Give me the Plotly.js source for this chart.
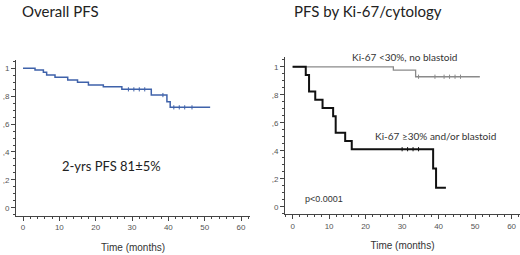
<!DOCTYPE html>
<html><head><meta charset="utf-8">
<script src="https://cdn.plot.ly/plotly-3.0.1.min.js"></script>
<style>html,body{margin:0;padding:0;background:#fff}#c{width:520px;height:255px}</style>
</head><body><div id="c"></div>
<script>
// Overall PFS
const ovT = [0, 3.3, 5.6, 6.5, 8.8, 12.3, 15.0, 18.0, 22.1, 27.2, 35.3, 39.6, 40.5, 51.5];
const ovS = [1, 0.988, 0.971, 0.952, 0.935, 0.916, 0.9, 0.88, 0.868, 0.849, 0.808, 0.76, 0.72, 0.72];
const ovCensT = [29, 30.5, 32, 33.5, 38.5, 41.5, 43, 44.5, 46.5];
const ovCensS = [0.849, 0.849, 0.849, 0.849, 0.808, 0.72, 0.72, 0.72, 0.72];
// Ki-67 <30%, no blastoid
const lowT = [0, 27.6, 33.7, 51.3];
const lowS = [1, 0.976, 0.929, 0.929];
const lowCensT = [34.5, 39, 41.5, 43, 44.5, 46];
const lowCensS = [0.929, 0.929, 0.929, 0.929, 0.929, 0.929];
// Ki-67 >=30% and/or blastoid
const highT = [0, 3.6, 4.5, 6.2, 8.2, 11.1, 11.8, 14.4, 16.2, 38.5, 39.3, 42];
const highS = [1, 0.941, 0.824, 0.765, 0.706, 0.647, 0.529, 0.471, 0.412, 0.275, 0.137, 0.137];
const highCensT = [30, 31.5, 33, 34.5];
const highCensS = [0.412, 0.412, 0.412, 0.412];
// ticks
const yTickVals = [0, 0.2, 0.4, 0.6, 0.8, 1];
const yTickText = ["0", ",2", ",4", ",6", ",8", "1"];
const xTickVals = [0, 10, 20, 30, 40, 50, 60];

const tickFont = {family: "Liberation Sans, Arial, sans-serif", size: 8, color: "#555"};
function xax(domain, range, anchor){
  return {domain, range, anchor, showgrid:false, zeroline:false, showline:true, linecolor:"#444", linewidth:1,
    ticks:"outside", ticklen:4, tickcolor:"#444", tickvals:xTickVals, tickfont:tickFont,
    minor:{dtick:2, tick0:0, ticks:"outside", ticklen:2, tickcolor:"#444"},
    title:{text:"Time (months)", font:{family:"Liberation Sans, Arial, sans-serif", size:10, color:"#333"}, standoff:12}};
}
function yax(domain, range, anchor){
  return {domain, range, anchor, showgrid:false, zeroline:false, showline:true, linecolor:"#444", linewidth:1,
    ticks:"outside", ticklen:4, tickcolor:"#444", tickvals:yTickVals, ticktext:yTickText, tickfont:tickFont,
    minor:{dtick:0.05, tick0:0, ticks:"outside", ticklen:2, tickcolor:"#444"}};
}
const data = [
  {x:ovT, y:ovS, xaxis:"x", yaxis:"y", mode:"lines", line:{shape:"hv", color:"#3f62aa", width:1.5}},
  {x:ovCensT, y:ovCensS, xaxis:"x", yaxis:"y", mode:"markers", marker:{symbol:"line-ns", size:3, line:{width:1, color:"#3f62aa"}}},
  {x:lowT, y:lowS, xaxis:"x2", yaxis:"y2", mode:"lines", line:{shape:"hv", color:"#8a8a8a", width:1.3}},
  {x:lowCensT, y:lowCensS, xaxis:"x2", yaxis:"y2", mode:"markers", marker:{symbol:"line-ns", size:3, line:{width:1, color:"#8a8a8a"}}},
  {x:highT, y:highS, xaxis:"x2", yaxis:"y2", mode:"lines", line:{shape:"hv", color:"#111", width:2}},
  {x:highCensT, y:highCensS, xaxis:"x2", yaxis:"y2", mode:"markers", marker:{symbol:"line-ns", size:3, line:{width:1, color:"#111"}}}
];
const layout = {
  width:520, height:255, margin:{l:0, r:0, t:0, b:0}, showlegend:false,
  paper_bgcolor:"#fff", plot_bgcolor:"#fff",
  xaxis: xax([0.0308, 0.481], [-1.93, 62.5], "y"),
  yaxis: yax([0.154, 0.765], [-0.057, 1.06], "x"),
  xaxis2: xax([0.548, 1.0], [-2.1, 62.3], "y2"),
  yaxis2: yax([0.161, 0.776], [-0.05, 1.069], "x2"),
  annotations: [
    {text:"Overall PFS", xref:"paper", yref:"paper", x:20/520, y:1-10.7/255, xanchor:"left", yanchor:"middle", showarrow:false, font:{family:"Lato, sans-serif", size:15, color:"#222"}},
    {text:"PFS by Ki-67/cytology", xref:"paper", yref:"paper", x:292/520, y:1-10.7/255, xanchor:"left", yanchor:"middle", showarrow:false, font:{family:"Lato, sans-serif", size:15, color:"#222"}},
    {text:"2-yrs PFS 81±5%", xref:"paper", yref:"paper", x:60/520, y:1-165.7/255, xanchor:"left", yanchor:"middle", showarrow:false, font:{family:"Lato, sans-serif", size:13, color:"#222"}},
    {text:"Ki-67 <30%, no blastoid", xref:"paper", yref:"paper", x:350/520, y:1-56.5/255, xanchor:"left", yanchor:"middle", showarrow:false, font:{family:"Lato, sans-serif", size:10, color:"#333"}},
    {text:"Ki-67 ≥30% and/or blastoid", xref:"paper", yref:"paper", x:373/520, y:1-135.7/255, xanchor:"left", yanchor:"middle", showarrow:false, font:{family:"Lato, sans-serif", size:10, color:"#333"}},
    {text:"p<0.0001", xref:"paper", yref:"paper", x:302.5/520, y:1-199/255, xanchor:"left", yanchor:"middle", showarrow:false, font:{family:"Liberation Sans, Arial, sans-serif", size:9, color:"#333"}}
  ]
};
Plotly.newPlot("c", data, layout, {staticPlot:true, displayModeBar:false});
</script></body></html>
